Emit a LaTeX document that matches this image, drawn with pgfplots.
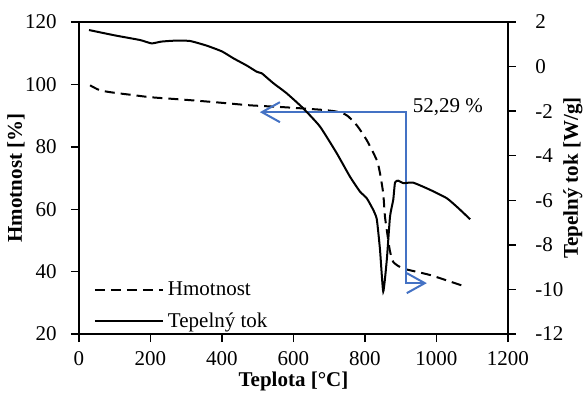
\documentclass[border=0pt]{standalone}
\usepackage{fontspec}
\setmainfont{Liberation Serif}
\usepackage{pgfplots}
\pgfplotsset{compat=1.18}
\usetikzlibrary{arrows.meta}
\definecolor{ablue}{RGB}{68,114,196}
\begin{document}
\fontsize{10.5}{12.6}\selectfont
\begin{tikzpicture}
\pgfplotsset{every axis/.append style={
  scale only axis, width=214.5pt, height=156pt,
  xmin=0, xmax=1200,
  tick align=outside, major tick length=4pt,
  /pgf/number format/assume math mode=true,
  /pgf/number format/1000 sep={},
  tick label style={font=\fontsize{10.5}{12.6}\selectfont},
  label style={font=\fontsize{10.5}{12.6}\selectfont\bfseries},
  axis line style={line width=0.7pt},
  tick style={line width=0.7pt, black},
}}
\begin{axis}[name=ax,
  ymin=20, ymax=120, ytick={20,40,...,120},
  xtick={0,200,...,1200},
  xtick pos=lower, ytick pos=left,
  yticklabel style={xshift=-3.5pt},
  xticklabel style={yshift=-1.3pt},
  xlabel={Teplota [°C]}, ylabel={Hmotnost [\%]},
  xlabel style={at={(axis description cs:0.5,-0.1692)}, anchor=base},
  ylabel style={at={(axis description cs:-0.1469,0.5)}, anchor=center},
  legend style={draw=none, fill=none, at={(axis description cs:0.02,-0.015)}, anchor=south west,
    font=\fontsize{10.5}{12.6}\selectfont, row sep=3pt},
  legend cell align=left,
  legend image code/.code={\draw[#1] (0pt,0pt) -- (34pt,0pt);},
]
\addplot[black, line width=1pt, dash pattern=on 5pt off 3pt, smooth, tension=0.4] coordinates {
(31,99.7) (59,98.1) (100,97.3) (150,96.6) (199,95.9) (270,95.3) (338,94.7)
(410,94.0) (478,93.3) (572,92.7) (674,91.9) (720,91.3) (749,90.1) (777,86.9)
(805,82.1) (833,75.7) (842,71.5) (851,65.0) (856,57.5) (865,50.1) (870,46.5)
(879,43.1) (907,41.0) (982,38.9) (1075,35.4)
};
\addlegendentry{Hmotnost}
\addlegendimage{black, line width=1pt}
\addlegendentry{Tepelný tok}
\addplot[ablue, line width=1pt, line join=miter,
  {Straight Barb[length=9pt,width=10pt]}-{Straight Barb[length=9pt,width=10pt]}, forget plot]
  coordinates {(506,91.1) (915,91.1) (915,36.3) (973,36.3)};
\node[anchor=base west, inner sep=0pt, font=\fontsize{10.5}{12.6}\selectfont] at (axis cs:933,91.0) {52,29 \%};
\end{axis}
\begin{axis}[
  axis y line*=right, axis x line=none,
  ymin=-12, ymax=2, ytick={-12,-10,...,2},
  yticklabel style={xshift=6pt},
  ylabel={Tepelný tok [W/g]},
  ylabel style={at={(axis description cs:1.1515,0.5)}, anchor=center},
]
\addplot[black, line width=1pt, smooth, tension=0.3] coordinates {
(28,1.64) (100,1.40) (171,1.19) (203,1.04) (230,1.12) (264,1.16) (310,1.15)
(357,0.94) (400,0.68) (432,0.37) (470,0.04) (497,-0.23) (511,-0.30) (520,-0.42)
(544,-0.75) (581,-1.2) (627,-1.87) (674,-2.69) (721,-3.89) (758,-4.94)
(786,-5.61) (805,-5.91) (823,-6.43) (833,-6.85) (842,-8.22) (851,-10.09)
(861,-8.67) (870,-6.73) (879,-5.98) (884,-5.2) (893,-5.12) (907,-5.23)
(935,-5.21) (982,-5.53) (1029,-5.91) (1061,-6.35) (1094,-6.85)
};
\end{axis}
\pgfresetboundingbox
\path[use as bounding box] ([shift={(-39.5pt,-29pt)}]ax.south west) rectangle ([shift={(38.5pt,11pt)}]ax.north east);
\end{tikzpicture}
\end{document}
